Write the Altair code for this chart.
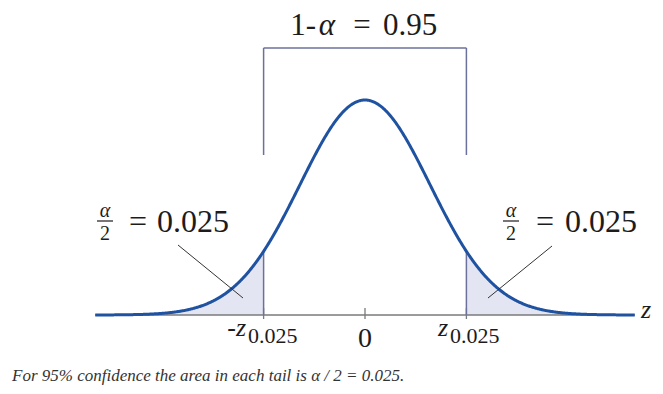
import altair as alt
import numpy as np
import pandas as pd

# ---------------- data ----------------
MEAN = 0.0
SD = 1.0
CUT = 1.56                      # drawn position of z_0.025 on the curve (sd units)
Z_RANGE = [-4.15, 4.15]         # extent of the drawn curve / baseline
TICK_VALUES = [-CUT, 0.0, CUT]
TOP_LABEL = ["1-", "α", "=", "0.95"]
HALF_ALPHA = ["α", "2", "=", "0.025"]
TICK_LABELS = ["-z", "0.025", "0", "z", "0.025"]
AXIS_LABEL = ["z"]
CAPTION = ["For 95% confidence the area in each tail is α / 2 = 0.025."]

# ---------------- style ----------------
BLUE = "#1f52a0"
FILL = "#e4e5f3"
FRAME = "#6c719c"
AXIS_GREY = "#7a7a7a"
INK = "#1c1c1c"
SERIF = "Liberation Serif"

W, H = 647, 378
PX_PER_Z = 65.0
PX_PER_D = 538.9
X0, Y0 = 365 - 8, 315 - 8      # chart-pixel position of z=0, d=0

xs = alt.Scale(domain=[-X0 / PX_PER_Z, (W - X0) / PX_PER_Z], nice=False, zero=False)
ys = alt.Scale(domain=[(Y0 - H) / PX_PER_D, Y0 / PX_PER_D], nice=False, zero=False)


def X(px):
    return (px - 365) / PX_PER_Z


def Y(py):
    return (315 - py) / PX_PER_D


def enc_xy(xf="x:Q", yf="y:Q"):
    return dict(x=alt.X(xf, scale=xs, axis=None), y=alt.Y(yf, scale=ys, axis=None))


# curve grid
z_grid = np.round(np.arange(int(Z_RANGE[0] * 100), int(Z_RANGE[1] * 100) + 1) / 100, 2)
curve_df = pd.DataFrame({"z": z_grid, "zero": 0.0})
dens = f"densityNormal(datum.z, {MEAN}, {SD})"

base_curve = alt.Chart(curve_df).transform_calculate(d=dens)

left_tail = base_curve.transform_filter(f"datum.z <= {-CUT} + 1e-9").mark_area(
    color=FILL, opacity=1
).encode(**enc_xy("z:Q", "d:Q"), y2="zero:Q")
right_tail = base_curve.transform_filter(f"datum.z >= {CUT} - 1e-9").mark_area(
    color=FILL, opacity=1
).encode(**enc_xy("z:Q", "d:Q"), y2="zero:Q")

cut_lines = alt.Chart(pd.DataFrame({"z": [-CUT, CUT], "zero": [0.0, 0.0]})).transform_calculate(
    d=dens
).mark_rule(color=FRAME, strokeWidth=1.5).encode(**enc_xy("z:Q", "d:Q"), y2="zero:Q")

# bracket above the curve
yb1, yb2 = Y(155), Y(48)
bracket_df = pd.DataFrame({
    "x": [-CUT, CUT, -CUT], "x2": [-CUT, CUT, CUT],
    "y": [yb1, yb1, yb2], "y2": [yb2, yb2, yb2],
})
bracket = alt.Chart(bracket_df).mark_rule(color=FRAME, strokeWidth=1.5).encode(
    **enc_xy(), x2="x2:Q", y2="y2:Q"
)

baseline = alt.Chart(pd.DataFrame({"x": [Z_RANGE[0]], "x2": [Z_RANGE[1]], "y": [0.0]})).mark_rule(
    color=AXIS_GREY, strokeWidth=1.5
).encode(**enc_xy(), x2="x2:Q")

tick_df = pd.DataFrame({"x": TICK_VALUES, "y": [Y(308)] * 3, "y2": [Y(319)] * 3})
ticks = alt.Chart(tick_df).mark_rule(color=AXIS_GREY, strokeWidth=1.3).encode(
    **enc_xy(), y2="y2:Q"
)

curve = base_curve.mark_line(color=BLUE, strokeWidth=3).encode(**enc_xy("z:Q", "d:Q"))

# leader lines and fraction bars
lead_df = pd.DataFrame({
    "x": [X(178), X(552)], "x2": [X(243), X(488)],
    "y": [Y(245), Y(246)], "y2": [Y(298), Y(298)],
})
leaders = alt.Chart(lead_df).mark_rule(color="#333333", strokeWidth=1).encode(
    **enc_xy(), x2="x2:Q", y2="y2:Q"
)
frac_df = pd.DataFrame({"x": [X(97), X(503)], "x2": [X(113), X(519)], "y": [Y(221), Y(221)]})
fracs = alt.Chart(frac_df).mark_rule(color=INK, strokeWidth=1.2).encode(**enc_xy(), x2="x2:Q")


def label(text, px, py, size, italic=False, align="left", color=INK):
    df = pd.DataFrame({"t": [text], "x": [X(px)], "y": [Y(py)]})
    return alt.Chart(df).mark_text(
        align=align, baseline="alphabetic", font=SERIF, fontSize=size,
        fontStyle="italic" if italic else "normal", color=color,
    ).encode(**enc_xy(), text="t:N")


texts = [
    # top label
    label(TOP_LABEL[0], 316, 35, 31, False, "right"),
    label(TOP_LABEL[1], 327, 35, 31, True, "center"),
    label(TOP_LABEL[2], 362, 35, 31, False, "center"),
    label(TOP_LABEL[3], 383, 35, 31, False, "left"),
    # left alpha/2
    label(HALF_ALPHA[0], 105, 217, 20, True, "center"),
    label(HALF_ALPHA[1], 105, 240, 20, False, "center"),
    label(HALF_ALPHA[2], 138, 232, 32, False, "center"),
    label(HALF_ALPHA[3], 157, 232, 32, False, "left"),
    # right alpha/2
    label(HALF_ALPHA[0], 511, 217, 20, True, "center"),
    label(HALF_ALPHA[1], 511, 240, 20, False, "center"),
    label(HALF_ALPHA[2], 545, 232, 32, False, "center"),
    label(HALF_ALPHA[3], 565, 232, 32, False, "left"),
    # tick labels
    label(TICK_LABELS[0], 246, 336, 26, True, "right"),
    label(TICK_LABELS[1], 248, 343, 22, False, "left"),
    label(TICK_LABELS[2], 365, 347, 28, False, "center"),
    label(TICK_LABELS[3], 448, 336, 26, True, "right"),
    label(TICK_LABELS[4], 450, 343, 22, False, "left"),
    # axis label
    label(AXIS_LABEL[0], 641, 318, 26, True, "left"),
    # caption
    label(CAPTION[0], 12, 381, 17, True, "left", "#333333"),
]

chart = alt.layer(
    left_tail, right_tail, baseline, ticks, cut_lines, bracket, curve, leaders, fracs, *texts
).properties(width=W, height=H, padding=0, autosize="none").configure_view(stroke=None)

chart.save("out.html", embed_options={"renderer": "svg", "actions": False})
